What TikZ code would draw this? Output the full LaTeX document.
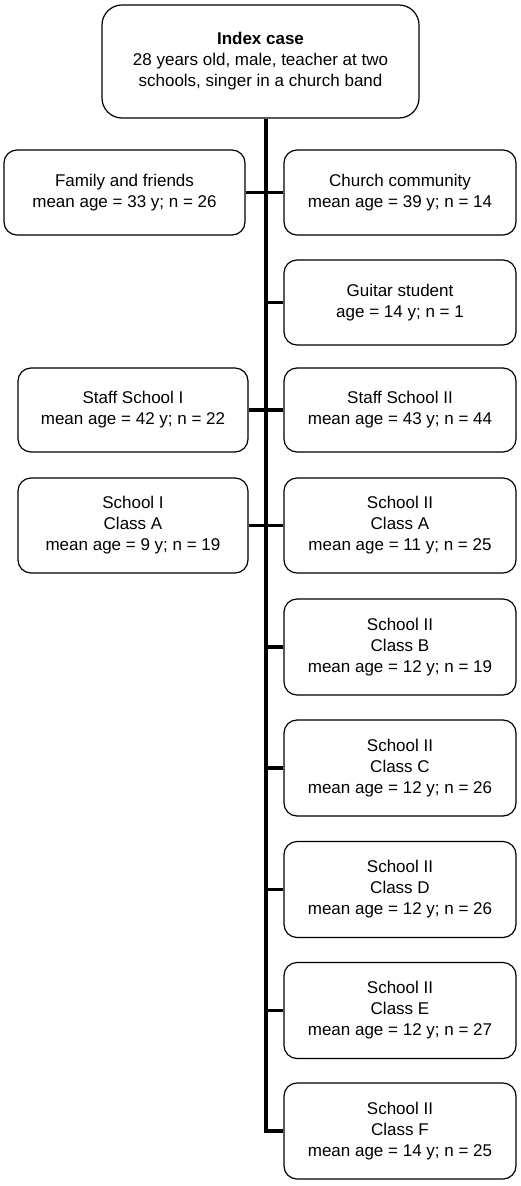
\documentclass[tikz,border=0pt]{standalone}
\usepackage{fontspec}
\setmainfont{Liberation Sans}

\begin{document}
\begin{tikzpicture}[x=1pt,y=-1pt,
		group/.style={draw,line width=1.2pt,rounded corners=13pt,align=center,
			inner sep=0pt,font={\fontsize{17}{21}\selectfont}},
		link/.style={line width=3.5pt}]
		\useasboundingbox (0,0) rectangle (521,1186);

		\node[group,rounded corners=20pt,minimum width=317pt,minimum height=113pt] (index) at (260.5,61.5)
			{\textbf{Index case}\\28 years old, male, teacher at two\\schools, singer in a church band};

		\node[group,minimum width=241pt,minimum height=85pt] (family) at (124.5,192.5) {Family and friends\\mean age = 33 y; n = 26};
		\node[group,minimum width=230pt,minimum height=84pt] (staffI) at (133,410) {Staff School I\\mean age = 42 y; n = 22};
		\node[group,minimum width=230pt,minimum height=95pt] (schoolI) at (133,525.5) {School I\\Class A\\mean age = 9 y; n = 19};

		\node[group,minimum width=232pt,minimum height=85pt] (church) at (400,192.5) {Church community\\mean age = 39 y; n = 14};
		\node[group,minimum width=232pt,minimum height=85pt] (guitar) at (400,302.5) {Guitar student\\age = 14 y; n = 1};
		\node[group,minimum width=232pt,minimum height=84pt] (staffII) at (400,410) {Staff School II\\mean age = 43 y; n = 44};
		\node[group,minimum width=232pt,minimum height=95pt] (classA) at (400,525.5) {School II\\Class A\\mean age = 11 y; n = 25};
		\node[group,minimum width=232pt,minimum height=96pt] (classB) at (400,647) {School II\\Class B\\mean age = 12 y; n = 19};
		\node[group,minimum width=232pt,minimum height=96pt] (classC) at (400,768) {School II\\Class C\\mean age = 12 y; n = 26};
		\node[group,minimum width=232pt,minimum height=96pt] (classD) at (400,889.5) {School II\\Class D\\mean age = 12 y; n = 26};
		\node[group,minimum width=232pt,minimum height=96pt] (classE) at (400,1010.5) {School II\\Class E\\mean age = 12 y; n = 27};
		\node[group,minimum width=232pt,minimum height=96pt] (classF) at (400,1131) {School II\\Class F\\mean age = 14 y; n = 25};

		\coordinate (spine) at (266,0);

		\draw[link] (spine |- index.south) |- (classF.west);
		\draw[link] (family.east) -- (church.west);
		\draw[link] (staffI.east) -- (staffII.west);
		\draw[link] (schoolI.east) -- (classA.west);
		\draw[link] (spine |- guitar.west) -- (guitar.west);
		\foreach \c in {B,C,D,E}
			\draw[link] (spine |- class\c.west) -- (class\c.west);
	\end{tikzpicture}
\end{document}
